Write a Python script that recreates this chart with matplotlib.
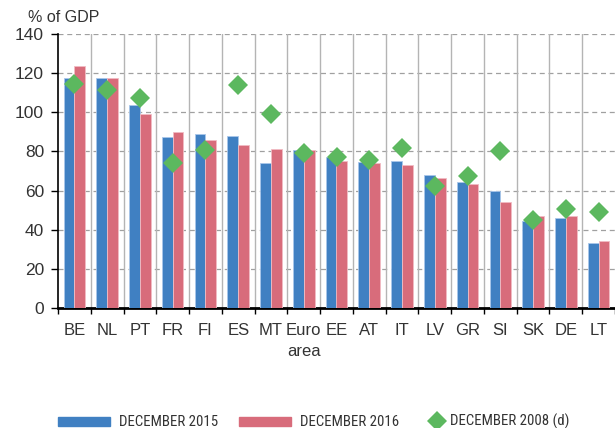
import matplotlib.pyplot as plt
from matplotlib.patches import Rectangle
import numpy as np

plt.rcParams['font.family'] = ['Liberation Sans', 'DejaVu Sans']

# Public debt by country, % of GDP
countries = ["BE", "NL", "PT", "FR", "FI", "ES", "MT", "Euro\narea", "EE", "AT",
             "IT", "LV", "GR", "SI", "SK", "DE", "LT"]
dec_2015 = [117.4, 117.7, 103.7, 87.4, 88.7, 87.9, 73.9, 80.7, 77.0, 74.4,
            74.9, 68.0, 64.2, 59.8, 44.5, 45.8, 33.0]
dec_2016 = [123.5, 117.4, 99.3, 89.9, 85.7, 83.5, 81.1, 80.7, 75.1, 74.1,
            73.3, 66.3, 63.4, 54.3, 47.0, 47.0, 34.4]
dec_2008 = [114.3, 111.4, 107.5, 74.1, 80.7, 114.0, 99.0, 79.2, 77.3, 75.5,
            81.6, 62.1, 67.3, 80.4, 45.0, 50.4, 49.2]
legend_labels = ['DECEMBER 2015', 'DECEMBER 2016', 'DECEMBER 2008 (d)']

blue = '#4080c2'
red = '#d86c7b'
green = '#5cb85f'
text_col = '#333333'

W, H = 615, 428
fig = plt.figure(figsize=(W / 100, H / 100), dpi=100)
ax = fig.add_axes([58 / W, 1 - 308 / H, 1 - 58 / W, 274 / H])

x = np.arange(len(countries))
w = 0.33
ax.bar(x - w / 2, dec_2015, w, color=blue, edgecolor='#a9c7ea', linewidth=0.6, zorder=3)
ax.bar(x + w / 2, dec_2016, w, color=red, edgecolor='#f2bcc4', linewidth=0.6, zorder=3)
ax.plot(x, dec_2008, linestyle='none', marker='D', markersize=10.5, color=green,
        markeredgewidth=0, zorder=4)

# grid: dashed horizontal, solid vertical separators
for y in range(20, 141, 20):
    ax.axhline(y, color='#a0a0a0', linestyle=(0, (4, 3)), linewidth=0.9, zorder=1)
for b in np.arange(0.5, len(countries) - 1, 1):
    ax.axvline(b, color='#b4b4b4', linewidth=1.0, zorder=1)

ax.set_xlim(-0.5, len(countries) - 0.5)
ax.set_ylim(0, 140)
ax.set_yticks(range(0, 141, 20))
ax.tick_params(axis='y', labelsize=12.5, labelcolor=text_col, color='black',
               length=5, width=1, pad=5)

ax.set_xticks(np.arange(-0.5, len(countries), 1))
ax.set_xticklabels([])
ax.set_xticks(x, minor=True)
ax.set_xticklabels(countries, minor=True, fontsize=12, color=text_col, linespacing=1.45)
ax.tick_params(axis='x', which='minor', length=0, pad=11)
ax.tick_params(axis='x', which='major', length=4, width=1, color='black')

for s in ['top', 'right']:
    ax.spines[s].set_visible(False)
ax.spines['left'].set_linewidth(1.2)
ax.spines['bottom'].set_linewidth(2)

fig.text(64 / W, 1 - 17 / H, "% of GDP", fontsize=11.5, color=text_col, ha='center', va='center')

# legend drawn by hand to get wide swatches and tight diamond spacing
leg_font = dict(fontsize=10.7, color=text_col, va='baseline', ha='left',
                family=['Roboto Condensed', 'Liberation Sans', 'DejaVu Sans'])
base = 1 - 425.5 / H
mid = 1 - 421 / H
for x0, col, lab in [(58, blue, legend_labels[0]), (239, red, legend_labels[1])]:
    fig.patches.append(Rectangle((x0 / W, mid - 4.5 / H), 52 / W, 9 / H, color=col,
                                 transform=fig.transFigure, figure=fig))
    fig.text((x0 + 61) / W, base, lab, **leg_font)
fig.lines.append(plt.Line2D([437 / W], [mid], marker='D', markersize=10, color=green,
                            markeredgewidth=0, transform=fig.transFigure, figure=fig))
fig.text(450 / W, base, legend_labels[2], **leg_font)

fig.savefig('out.png', dpi=100)
